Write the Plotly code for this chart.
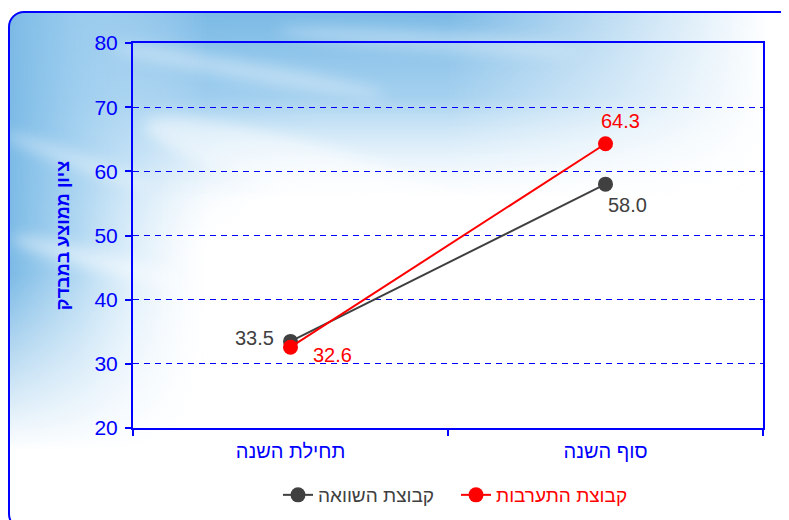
import base64
import plotly.graph_objects as go

# ---- data ----
categories = ["תחילת השנה", "סוף השנה"]
series_names = ["קבוצת השוואה", "קבוצת התערבות"]
comparison_values = [33.5, 58.0]
intervention_values = [32.6, 64.3]
y_ticks = [20, 30, 40, 50, 60, 70, 80]
y_title = "ציון ממוצע במבדק"

# ---- styles ----
# page has an 8px body margin; figure coords are page coords minus 8
W, H = 781, 512
ML, MR, MT, MB = 125, 26, 35, 92
PW, PH = W - ML - MR, H - MT - MB
BLUE = "#0000FF"
GRAY = "#404040"
RED = "#FF0000"
FONT = "Liberation Sans, Arial, sans-serif"

fig = go.Figure()

series = [
    (series_names[0], comparison_values, GRAY),
    (series_names[1], intervention_values, RED),
]
for name, vals, col in series:
    fig.add_trace(go.Scatter(
        x=categories, y=vals, mode="lines+markers",
        name=f'<span style="color:{col}">{name}</span>',
        line=dict(color=col, width=2),
        marker=dict(color=col, size=15),
        hoverinfo="skip",
    ))

# data labels (offsets in px)
label_offsets = {
    0: [(-36, 3), (22, -21)],
    1: [(42, -8), (15, 23)],
}
for si, (name, vals, col) in enumerate(series):
    for pi, v in enumerate(vals):
        dx, dy = label_offsets[si][pi]
        fig.add_annotation(x=categories[pi], y=v, text=f"{v:.1f}", showarrow=False,
                           xshift=dx, yshift=dy,
                           font=dict(family=FONT, size=20, color=col))

# background sky image + rounded frame (decoration)
fx0, fy0 = 0, 3
fw, fh = 800, 519
svg = f'''<svg xmlns="http://www.w3.org/2000/svg" width="{fw}" height="{fh}" viewBox="0 0 {fw} {fh}" preserveAspectRatio="none">
<defs>
<linearGradient id="vA" x1="0" y1="0" x2="0" y2="1" gradientUnits="objectBoundingBox">
<stop offset="0" stop-color="#7ab9e5" stop-opacity="1"/>
<stop offset="0.45" stop-color="#94c8ec" stop-opacity="0.85"/>
<stop offset="1" stop-color="#d8ecfa" stop-opacity="0"/>
</linearGradient>
<linearGradient id="hA" x1="0" y1="0" x2="1" y2="0" gradientUnits="objectBoundingBox">
<stop offset="0" stop-color="#fff"/>
<stop offset="0.55" stop-color="#fff"/>
<stop offset="0.95" stop-color="#000"/>
</linearGradient>
<mask id="mA"><rect x="0" y="0" width="{fw}" height="190" fill="url(#hA)"/></mask>
<linearGradient id="hB" x1="0" y1="0" x2="1" y2="0" gradientUnits="objectBoundingBox">
<stop offset="0" stop-color="#7ab9e5" stop-opacity="1"/>
<stop offset="0.35" stop-color="#a0cfef" stop-opacity="0.8"/>
<stop offset="1" stop-color="#e0f0fb" stop-opacity="0"/>
</linearGradient>
<linearGradient id="vB" x1="0" y1="0" x2="0" y2="1" gradientUnits="objectBoundingBox">
<stop offset="0" stop-color="#fff"/>
<stop offset="0.6" stop-color="#fff"/>
<stop offset="1" stop-color="#000"/>
</linearGradient>
<mask id="mB"><rect x="0" y="0" width="200" height="440" fill="url(#vB)"/></mask>
<radialGradient id="rC" cx="0" cy="0" r="1" gradientUnits="objectBoundingBox">
<stop offset="0" stop-color="#7ab9e5" stop-opacity="0.9"/>
<stop offset="0.6" stop-color="#a8d3f0" stop-opacity="0.5"/>
<stop offset="1" stop-color="#ffffff" stop-opacity="0"/>
</radialGradient>
<filter id="b" x="-50%" y="-50%" width="200%" height="200%"><feGaussianBlur stdDeviation="7"/></filter>
<clipPath id="c"><rect x="1" y="1" width="{fw-2}" height="{fh-2}" rx="15" ry="15"/></clipPath>
</defs>
<g clip-path="url(#c)">
<rect x="0" y="0" width="{fw}" height="{fh}" fill="#ffffff"/>
<rect x="0" y="0" width="360" height="300" fill="url(#rC)"/>
<rect x="0" y="0" width="{fw}" height="190" fill="url(#vA)" mask="url(#mA)"/>
<rect x="0" y="0" width="200" height="440" fill="url(#hB)" mask="url(#mB)"/>
<g filter="url(#b)" fill="#ffffff">
<ellipse cx="90" cy="250" rx="90" ry="10" opacity="0.45" transform="rotate(15 90 250)"/>
<ellipse cx="240" cy="60" rx="140" ry="9" opacity="0.35" transform="rotate(10 240 60)"/>
<ellipse cx="70" cy="150" rx="80" ry="8" opacity="0.35" transform="rotate(20 70 150)"/>
<ellipse cx="420" cy="30" rx="150" ry="10" opacity="0.3" transform="rotate(4 420 30)"/>
<ellipse cx="300" cy="160" rx="170" ry="28" opacity="0.5" transform="rotate(16 300 160)"/>
</g>
</g>
<rect x="1" y="1" width="{fw-2}" height="{fh-2}" rx="15" ry="15" fill="none" stroke="{BLUE}" stroke-width="2"/>
</svg>'''
src = "data:image/svg+xml;base64," + base64.b64encode(svg.encode("utf-8")).decode("ascii")
fig.add_layout_image(dict(
    source=src, xref="paper", yref="paper",
    x=(fx0 - ML) / PW, y=(H - MB - fy0) / PH,
    sizex=fw / PW, sizey=fh / PH,
    xanchor="left", yanchor="top", sizing="stretch", layer="below",
))

fig.update_layout(
    width=W, height=H,
    margin=dict(l=ML, r=MR, t=MT, b=MB, autoexpand=False),
    paper_bgcolor="white",
    plot_bgcolor="rgba(0,0,0,0)",
    font=dict(family=FONT, color=BLUE),
    showlegend=True,
    legend=dict(orientation="h", x=0.5 + 8 / PW, xanchor="center", y=(H - MB - 487) / PH, yanchor="middle",
                font=dict(family=FONT, size=19), bgcolor="rgba(0,0,0,0)",
                entrywidth=133, entrywidthmode="pixels",
                traceorder="normal"),
    xaxis=dict(
        type="category", range=[-0.5, 1.5], tickson="boundaries",
        ticks="outside", ticklen=6, tickwidth=2, tickcolor=BLUE,
        showline=True, linecolor=BLUE, linewidth=2, mirror=True,
        showgrid=False, zeroline=False, automargin=False,
        tickfont=dict(family=FONT, size=20, color=BLUE),
        ticklabelstandoff=4,
        fixedrange=True,
    ),
    yaxis=dict(
        range=[20, 80], tickvals=y_ticks, ticktext=[str(t) for t in y_ticks],
        ticks="outside", ticklen=6, tickwidth=2, tickcolor=BLUE,
        showline=True, linecolor=BLUE, linewidth=2, mirror=True,
        showgrid=True, gridcolor=BLUE, gridwidth=1, griddash="6px,5px",
        zeroline=False, automargin=False,
        tickfont=dict(family=FONT, size=21, color=BLUE),
        ticklabelstandoff=3,
        title=dict(text=f"<b>{y_title}</b>", font=dict(family=FONT, size=18, color=BLUE), standoff=20),
        fixedrange=True,
    ),
)

fig.write_html("out.html")
